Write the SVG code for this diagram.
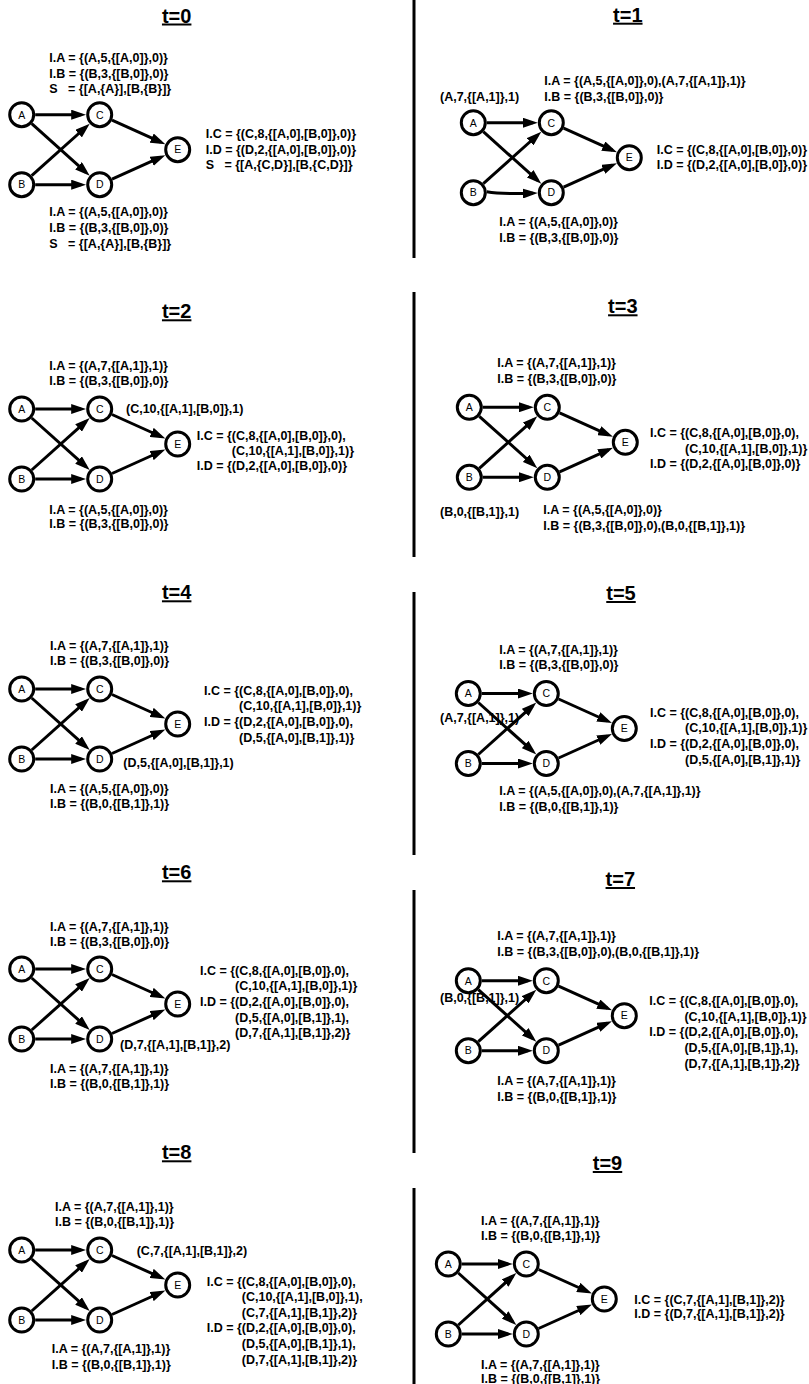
<svg xmlns="http://www.w3.org/2000/svg" width="809" height="1384" viewBox="0 0 809 1384">
<style>
text{font-family:"Liberation Sans",Arial,Helvetica,sans-serif;fill:#000}
.t{font-size:12.5px;font-weight:bold}
.ttl{font-size:20px;font-weight:bold;text-anchor:middle;text-decoration:underline}
.nl{font-size:10.5px;text-anchor:middle}
.n{fill:#fff;stroke:#000;stroke-width:3}
.e{fill:none;stroke:#000;stroke-width:3;marker-end:url(#ah)}
.sep{stroke:#000;stroke-width:3}
</style>
<defs>
<marker id="ah" markerUnits="userSpaceOnUse" markerWidth="15" markerHeight="10" refX="10" refY="5" orient="auto"><path d="M0,0 L15,5 L0,10 z" fill="#000"/></marker>
</defs>
<rect width="809" height="1384" fill="#fff"/>
<g id="separators">
<line class="sep" x1="414" y1="0" x2="414" y2="258"/>
<line class="sep" x1="414" y1="292" x2="414" y2="557"/>
<line class="sep" x1="414" y1="592" x2="414" y2="855"/>
<line class="sep" x1="414" y1="890" x2="414" y2="1153"/>
<line class="sep" x1="414" y1="1188" x2="414" y2="1384"/>
</g>

<!-- t=0 -->
<g id="t0">
<text class="ttl" x="176.7" y="22.5">t=0</text>
<g id="t0-labels" class="t">
<text x="49.3" y="62">I.A = {(A,5,{[A,0]},0)}</text>
<text x="49.3" y="77.5">I.B = {(B,3,{[B,0]},0)}</text>
<text x="49.3" y="93" xml:space="preserve">S   = {[A,{A}],[B,{B}]}</text>
<text x="205.7" y="138">I.C = {(C,8,{[A,0],[B,0]},0)}</text>
<text x="205.7" y="153.5">I.D = {(D,2,{[A,0],[B,0]},0)}</text>
<text x="205.7" y="169" xml:space="preserve">S   = {[A,{C,D}],[B,{C,D}]}</text>
<text x="49.3" y="216">I.A = {(A,5,{[A,0]},0)}</text>
<text x="49.3" y="232">I.B = {(B,3,{[B,0]},0)}</text>
<text x="49.3" y="248" xml:space="preserve">S   = {[A,{A}],[B,{B}]}</text>
</g>
<g transform="translate(21.7,114.7)">
<g id="t0-edges"><path class="e" d="M13.5,0 L59.5,0"/><path class="e" d="M10,9 L64.3,57.7"/><path class="e" d="M10,61 L64.3,12.3"/><path class="e" d="M13.5,70 L59.5,70"/><path class="e" d="M90.3,5.5 L139.1,27.5"/><path class="e" d="M90.3,64.5 L139.1,42.5"/></g>
<g id="t0-A"><circle class="n" cx="0" cy="0" r="12"/><text class="nl" x="0" y="3.8">A</text></g>
<g id="t0-B"><circle class="n" cx="0" cy="70" r="12"/><text class="nl" x="0" y="73.8">B</text></g>
<g id="t0-C"><circle class="n" cx="78" cy="0" r="12"/><text class="nl" x="78" y="3.8">C</text></g>
<g id="t0-D"><circle class="n" cx="78" cy="70" r="12"/><text class="nl" x="78" y="73.8">D</text></g>
<g id="t0-E"><circle class="n" cx="156" cy="35" r="12"/><text class="nl" x="156" y="38.8">E</text></g>
</g>
</g>

<!-- t=1 -->
<g id="t1">
<text class="ttl" x="627.8" y="21.7">t=1</text>
<g id="t1-labels" class="t">
<text x="440" y="101">(A,7,{[A,1]},1)</text>
<text x="544.3" y="84.5">I.A = {(A,5,{[A,0]},0),(A,7,{[A,1]},1)}</text>
<text x="544.3" y="101">I.B = {(B,3,{[B,0]},0)}</text>
<text x="656.7" y="153.5">I.C = {(C,8,{[A,0],[B,0]},0)}</text>
<text x="656.7" y="169">I.D = {(D,2,{[A,0],[B,0]},0)}</text>
<text x="499.3" y="226">I.A = {(A,5,{[A,0]},0)}</text>
<text x="499.3" y="242">I.B = {(B,3,{[B,0]},0)}</text>
</g>
<g transform="translate(473.3,122.7)">
<g id="t1-edges"><path class="e" d="M13.5,0 L59.5,0"/><path class="e" d="M10,9 L64.3,57.7"/><path class="e" d="M10,61 L64.3,12.3"/><path class="e" d="M13.5,69 Q28,71.5 59.5,70.5"/><path class="e" d="M90.3,5.5 L139.1,27.5"/><path class="e" d="M90.3,64.5 L139.1,42.5"/></g>
<g id="t1-A"><circle class="n" cx="0" cy="0" r="12"/><text class="nl" x="0" y="3.8">A</text></g>
<g id="t1-B"><circle class="n" cx="0" cy="70" r="12"/><text class="nl" x="0" y="73.8">B</text></g>
<g id="t1-C"><circle class="n" cx="78" cy="0" r="12"/><text class="nl" x="78" y="3.8">C</text></g>
<g id="t1-D"><circle class="n" cx="78" cy="70" r="12"/><text class="nl" x="78" y="73.8">D</text></g>
<g id="t1-E"><circle class="n" cx="156" cy="35" r="12"/><text class="nl" x="156" y="38.8">E</text></g>
</g>
</g>

<!-- t=2 -->
<g id="t2">
<text class="ttl" x="176.7" y="318.3">t=2</text>
<g id="t2-labels" class="t">
<text x="49.3" y="369.5">I.A = {(A,7,{[A,1]},1)}</text>
<text x="49.3" y="384.5">I.B = {(B,3,{[B,0]},0)}</text>
<text x="126" y="413">(C,10,{[A,1],[B,0]},1)</text>
<text x="196.7" y="439.5">I.C = {(C,8,{[A,0],[B,0]},0),</text>
<text x="231.8" y="454.5">(C,10,{[A,1],[B,0]},1)}</text>
<text x="196.7" y="470">I.D = {(D,2,{[A,0],[B,0]},0)}</text>
<text x="49.3" y="513.5">I.A = {(A,5,{[A,0]},0)}</text>
<text x="49.3" y="528">I.B = {(B,3,{[B,0]},0)}</text>
</g>
<g transform="translate(21.7,409)">
<g id="t2-edges"><path class="e" d="M13.5,0 L59.5,0"/><path class="e" d="M10,9 L64.3,57.7"/><path class="e" d="M10,61 L64.3,12.3"/><path class="e" d="M13.5,70 L59.5,70"/><path class="e" d="M90.3,5.5 L139.1,27.5"/><path class="e" d="M90.3,64.5 L139.1,42.5"/></g>
<g id="t2-A"><circle class="n" cx="0" cy="0" r="12"/><text class="nl" x="0" y="3.8">A</text></g>
<g id="t2-B"><circle class="n" cx="0" cy="70" r="12"/><text class="nl" x="0" y="73.8">B</text></g>
<g id="t2-C"><circle class="n" cx="78" cy="0" r="12"/><text class="nl" x="78" y="3.8">C</text></g>
<g id="t2-D"><circle class="n" cx="78" cy="70" r="12"/><text class="nl" x="78" y="73.8">D</text></g>
<g id="t2-E"><circle class="n" cx="156" cy="35" r="12"/><text class="nl" x="156" y="38.8">E</text></g>
</g>
</g>

<!-- t=3 -->
<g id="t3">
<text class="ttl" x="622.8" y="313.3">t=3</text>
<g id="t3-labels" class="t">
<text x="497.3" y="367">I.A = {(A,7,{[A,1]},1)}</text>
<text x="497.3" y="383">I.B = {(B,3,{[B,0]},0)}</text>
<text x="650" y="437">I.C = {(C,8,{[A,0],[B,0]},0),</text>
<text x="685.1" y="453">(C,10,{[A,1],[B,0]},1)}</text>
<text x="650" y="468">I.D = {(D,2,{[A,0],[B,0]},0)}</text>
<text x="440" y="516">(B,0,{[B,1]},1)</text>
<text x="543.3" y="513.5">I.A = {(A,5,{[A,0]},0)}</text>
<text x="543.3" y="529.5">I.B = {(B,3,{[B,0]},0),(B,0,{[B,1]},1)}</text>
</g>
<g transform="translate(469.3,407.3)">
<g id="t3-edges"><path class="e" d="M13.5,0 L59.5,0"/><path class="e" d="M10,9 L64.3,57.7"/><path class="e" d="M10,61 L64.3,12.3"/><path class="e" d="M13.5,70 L59.5,70"/><path class="e" d="M90.3,5.5 L139.1,27.5"/><path class="e" d="M90.3,64.5 L139.1,42.5"/></g>
<g id="t3-A"><circle class="n" cx="0" cy="0" r="12"/><text class="nl" x="0" y="3.8">A</text></g>
<g id="t3-B"><circle class="n" cx="0" cy="70" r="12"/><text class="nl" x="0" y="73.8">B</text></g>
<g id="t3-C"><circle class="n" cx="78" cy="0" r="12"/><text class="nl" x="78" y="3.8">C</text></g>
<g id="t3-D"><circle class="n" cx="78" cy="70" r="12"/><text class="nl" x="78" y="73.8">D</text></g>
<g id="t3-E"><circle class="n" cx="156" cy="35" r="12"/><text class="nl" x="156" y="38.8">E</text></g>
</g>
</g>

<!-- t=4 -->
<g id="t4">
<text class="ttl" x="176.7" y="599.3">t=4</text>
<g id="t4-labels" class="t">
<text x="50" y="649.5">I.A = {(A,7,{[A,1]},1)}</text>
<text x="50" y="665">I.B = {(B,3,{[B,0]},0)}</text>
<text x="204" y="694.5">I.C = {(C,8,{[A,0],[B,0]},0),</text>
<text x="239.1" y="710">(C,10,{[A,1],[B,0]},1)}</text>
<text x="204" y="726">I.D = {(D,2,{[A,0],[B,0]},0),</text>
<text x="239.1" y="741.5">(D,5,{[A,0],[B,1]},1)}</text>
<text x="123.3" y="767">(D,5,{[A,0],[B,1]},1)</text>
<text x="50" y="793">I.A = {(A,5,{[A,0]},0)}</text>
<text x="50" y="808">I.B = {(B,0,{[B,1]},1)}</text>
</g>
<g transform="translate(21.7,689)">
<g id="t4-edges"><path class="e" d="M13.5,0 L59.5,0"/><path class="e" d="M10,9 L64.3,57.7"/><path class="e" d="M10,61 L64.3,12.3"/><path class="e" d="M13.5,70 L59.5,70"/><path class="e" d="M90.3,5.5 L139.1,27.5"/><path class="e" d="M90.3,64.5 L139.1,42.5"/></g>
<g id="t4-A"><circle class="n" cx="0" cy="0" r="12"/><text class="nl" x="0" y="3.8">A</text></g>
<g id="t4-B"><circle class="n" cx="0" cy="70" r="12"/><text class="nl" x="0" y="73.8">B</text></g>
<g id="t4-C"><circle class="n" cx="78" cy="0" r="12"/><text class="nl" x="78" y="3.8">C</text></g>
<g id="t4-D"><circle class="n" cx="78" cy="70" r="12"/><text class="nl" x="78" y="73.8">D</text></g>
<g id="t4-E"><circle class="n" cx="156" cy="35" r="12"/><text class="nl" x="156" y="38.8">E</text></g>
</g>
</g>

<!-- t=5 -->
<g id="t5">
<text class="ttl" x="621" y="600">t=5</text>
<g id="t5-labels" class="t">
<text x="499.3" y="653.5">I.A = {(A,7,{[A,1]},1)}</text>
<text x="499.3" y="669">I.B = {(B,3,{[B,0]},0)}</text>
<text x="440" y="721.5">(A,7,{[A,1]},1)</text>
<text x="650" y="717">I.C = {(C,8,{[A,0],[B,0]},0),</text>
<text x="685.1" y="732">(C,10,{[A,1],[B,0]},1)}</text>
<text x="650" y="748">I.D = {(D,2,{[A,0],[B,0]},0),</text>
<text x="685.1" y="763.5">(D,5,{[A,0],[B,1]},1)}</text>
<text x="499.3" y="795">I.A = {(A,5,{[A,0]},0),(A,7,{[A,1]},1)}</text>
<text x="499.3" y="810.5">I.B = {(B,0,{[B,1]},1)}</text>
</g>
<g transform="translate(468.3,693.5)">
<g id="t5-edges"><path class="e" d="M13.5,0 L59.5,0"/><path class="e" d="M10,9 L64.3,57.7"/><path class="e" d="M10,61 L64.3,12.3"/><path class="e" d="M13.5,70 L59.5,70"/><path class="e" d="M90.3,5.5 L139.1,27.5"/><path class="e" d="M90.3,64.5 L139.1,42.5"/></g>
<g id="t5-A"><circle class="n" cx="0" cy="0" r="12"/><text class="nl" x="0" y="3.8">A</text></g>
<g id="t5-B"><circle class="n" cx="0" cy="70" r="12"/><text class="nl" x="0" y="73.8">B</text></g>
<g id="t5-C"><circle class="n" cx="78" cy="0" r="12"/><text class="nl" x="78" y="3.8">C</text></g>
<g id="t5-D"><circle class="n" cx="78" cy="70" r="12"/><text class="nl" x="78" y="73.8">D</text></g>
<g id="t5-E"><circle class="n" cx="156" cy="35" r="12"/><text class="nl" x="156" y="38.8">E</text></g>
</g>
</g>

<!-- t=6 -->
<g id="t6">
<text class="ttl" x="176.7" y="879.3">t=6</text>
<g id="t6-labels" class="t">
<text x="50" y="930.5">I.A = {(A,7,{[A,1]},1)}</text>
<text x="50" y="946">I.B = {(B,3,{[B,0]},0)}</text>
<text x="200" y="974.5">I.C = {(C,8,{[A,0],[B,0]},0),</text>
<text x="235.1" y="990">(C,10,{[A,1],[B,0]},1)}</text>
<text x="200" y="1006">I.D = {(D,2,{[A,0],[B,0]},0),</text>
<text x="235.1" y="1021.5">(D,5,{[A,0],[B,1]},1),</text>
<text x="235.1" y="1037">(D,7,{[A,1],[B,1]},2)}</text>
<text x="120" y="1049">(D,7,{[A,1],[B,1]},2)</text>
<text x="50" y="1073">I.A = {(A,7,{[A,1]},1)}</text>
<text x="50" y="1088">I.B = {(B,0,{[B,1]},1)}</text>
</g>
<g transform="translate(21.7,969)">
<g id="t6-edges"><path class="e" d="M13.5,0 L59.5,0"/><path class="e" d="M10,9 L64.3,57.7"/><path class="e" d="M10,61 L64.3,12.3"/><path class="e" d="M13.5,70 L59.5,70"/><path class="e" d="M90.3,5.5 L139.1,27.5"/><path class="e" d="M90.3,64.5 L139.1,42.5"/></g>
<g id="t6-A"><circle class="n" cx="0" cy="0" r="12"/><text class="nl" x="0" y="3.8">A</text></g>
<g id="t6-B"><circle class="n" cx="0" cy="70" r="12"/><text class="nl" x="0" y="73.8">B</text></g>
<g id="t6-C"><circle class="n" cx="78" cy="0" r="12"/><text class="nl" x="78" y="3.8">C</text></g>
<g id="t6-D"><circle class="n" cx="78" cy="70" r="12"/><text class="nl" x="78" y="73.8">D</text></g>
<g id="t6-E"><circle class="n" cx="156" cy="35" r="12"/><text class="nl" x="156" y="38.8">E</text></g>
</g>
</g>

<!-- t=7 -->
<g id="t7">
<text class="ttl" x="620.3" y="886">t=7</text>
<g id="t7-labels" class="t">
<text x="497.3" y="940">I.A = {(A,7,{[A,1]},1)}</text>
<text x="497.3" y="955.5">I.B = {(B,3,{[B,0]},0),(B,0,{[B,1]},1)}</text>
<text x="440" y="1002">(B,0,{[B,1]},1)</text>
<text x="649.3" y="1005">I.C = {(C,8,{[A,0],[B,0]},0),</text>
<text x="684.4" y="1020.5">(C,10,{[A,1],[B,0]},1)}</text>
<text x="649.3" y="1036">I.D = {(D,2,{[A,0],[B,0]},0),</text>
<text x="684.4" y="1052">(D,5,{[A,0],[B,1]},1),</text>
<text x="684.4" y="1067.5">(D,7,{[A,1],[B,1]},2)}</text>
<text x="497.3" y="1085">I.A = {(A,7,{[A,1]},1)}</text>
<text x="497.3" y="1100.5">I.B = {(B,0,{[B,1]},1)}</text>
</g>
<g transform="translate(468.3,980.7)">
<g id="t7-edges"><path class="e" d="M13.5,0 L59.5,0"/><path class="e" d="M10,9 L64.3,57.7"/><path class="e" d="M10,61 L64.3,12.3"/><path class="e" d="M13.5,70 L59.5,70"/><path class="e" d="M90.3,5.5 L139.1,27.5"/><path class="e" d="M90.3,64.5 L139.1,42.5"/></g>
<g id="t7-A"><circle class="n" cx="0" cy="0" r="12"/><text class="nl" x="0" y="3.8">A</text></g>
<g id="t7-B"><circle class="n" cx="0" cy="70" r="12"/><text class="nl" x="0" y="73.8">B</text></g>
<g id="t7-C"><circle class="n" cx="78" cy="0" r="12"/><text class="nl" x="78" y="3.8">C</text></g>
<g id="t7-D"><circle class="n" cx="78" cy="70" r="12"/><text class="nl" x="78" y="73.8">D</text></g>
<g id="t7-E"><circle class="n" cx="156" cy="35" r="12"/><text class="nl" x="156" y="38.8">E</text></g>
</g>
</g>

<!-- t=8 -->
<g id="t8">
<text class="ttl" x="176.7" y="1159.3">t=8</text>
<g id="t8-labels" class="t">
<text x="55" y="1211">I.A = {(A,7,{[A,1]},1)}</text>
<text x="55" y="1226">I.B = {(B,0,{[B,1]},1)}</text>
<text x="136.7" y="1254.5">(C,7,{[A,1],[B,1]},2)</text>
<text x="206.7" y="1285.5">I.C = {(C,8,{[A,0],[B,0]},0),</text>
<text x="241.8" y="1301">(C,10,{[A,1],[B,0]},1),</text>
<text x="241.8" y="1317">(C,7,{[A,1],[B,1]},2)}</text>
<text x="206.7" y="1332">I.D = {(D,2,{[A,0],[B,0]},0),</text>
<text x="241.8" y="1348">(D,5,{[A,0],[B,1]},1),</text>
<text x="241.8" y="1364">(D,7,{[A,1],[B,1]},2)}</text>
<text x="51.7" y="1353">I.A = {(A,7,{[A,1]},1)}</text>
<text x="51.7" y="1368.5">I.B = {(B,0,{[B,1]},1)}</text>
</g>
<g transform="translate(21.7,1250)">
<g id="t8-edges"><path class="e" d="M13.5,0 L59.5,0"/><path class="e" d="M10,9 L64.3,57.7"/><path class="e" d="M10,61 L64.3,12.3"/><path class="e" d="M13.5,70 L59.5,70"/><path class="e" d="M90.3,5.5 L139.1,27.5"/><path class="e" d="M90.3,64.5 L139.1,42.5"/></g>
<g id="t8-A"><circle class="n" cx="0" cy="0" r="12"/><text class="nl" x="0" y="3.8">A</text></g>
<g id="t8-B"><circle class="n" cx="0" cy="70" r="12"/><text class="nl" x="0" y="73.8">B</text></g>
<g id="t8-C"><circle class="n" cx="78" cy="0" r="12"/><text class="nl" x="78" y="3.8">C</text></g>
<g id="t8-D"><circle class="n" cx="78" cy="70" r="12"/><text class="nl" x="78" y="73.8">D</text></g>
<g id="t8-E"><circle class="n" cx="156" cy="35" r="12"/><text class="nl" x="156" y="38.8">E</text></g>
</g>
</g>

<!-- t=9 -->
<g id="t9">
<text class="ttl" x="607.5" y="1170">t=9</text>
<g id="t9-labels" class="t">
<text x="481" y="1224.5">I.A = {(A,7,{[A,1]},1)}</text>
<text x="481" y="1239.5">I.B = {(B,0,{[B,1]},1)}</text>
<text x="634.3" y="1304">I.C = {(C,7,{[A,1],[B,1]},2)}</text>
<text x="634.3" y="1317.5">I.D = {(D,7,{[A,1],[B,1]},2)}</text>
<text x="481" y="1369">I.A = {(A,7,{[A,1]},1)}</text>
<text x="481" y="1382.5">I.B = {(B,0,{[B,1]},1)}</text>
</g>
<g transform="translate(448.3,1264)">
<g id="t9-edges"><path class="e" d="M13.5,0 L59.5,0"/><path class="e" d="M10,9 L64.3,57.7"/><path class="e" d="M10,61 L64.3,12.3"/><path class="e" d="M13.5,70 L59.5,70"/><path class="e" d="M90.3,5.5 L139.1,27.5"/><path class="e" d="M90.3,64.5 L139.1,42.5"/></g>
<g id="t9-A"><circle class="n" cx="0" cy="0" r="12"/><text class="nl" x="0" y="3.8">A</text></g>
<g id="t9-B"><circle class="n" cx="0" cy="70" r="12"/><text class="nl" x="0" y="73.8">B</text></g>
<g id="t9-C"><circle class="n" cx="78" cy="0" r="12"/><text class="nl" x="78" y="3.8">C</text></g>
<g id="t9-D"><circle class="n" cx="78" cy="70" r="12"/><text class="nl" x="78" y="73.8">D</text></g>
<g id="t9-E"><circle class="n" cx="156" cy="35" r="12"/><text class="nl" x="156" y="38.8">E</text></g>
</g>
</g>
</svg>
